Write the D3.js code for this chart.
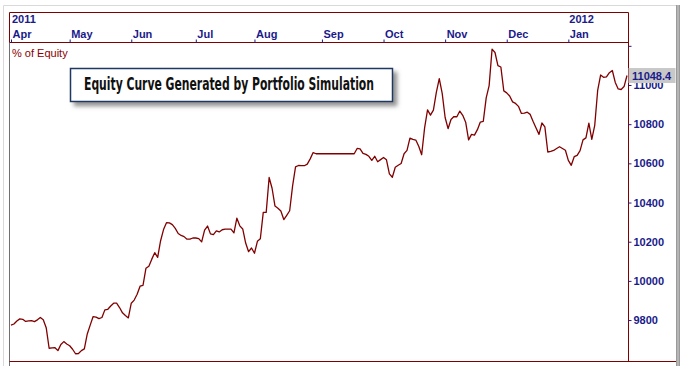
<!DOCTYPE html>
<html>
<head>
<meta charset="utf-8">
<script src="https://cdn.jsdelivr.net/npm/d3@7"></script>
<style>
  body { margin: 0; background: #fff; }
  svg { display: block; }
</style>
</head>
<body>
<div id="wrapper"></div>
<script>
// month tick labels on the top axis and the trading-day index where each month starts
const months = ["Apr", "May", "Jun", "Jul", "Aug", "Sep", "Oct", "Nov", "Dec", "Jan"]
const monthStartIdx = [0, 20, 41, 63, 83, 106, 127, 148, 169, 190]
const yearLabels = ["2011", "2012"]
const yearIdx = [0, 190]

// right axis
const yTicks = [9800, 10000, 10200, 10400, 10600, 10800, 11000, 11200]
const lastValueLabel = "11048.4"
const titleText = "Equity Curve Generated by Portfolio Simulation"
const unitLabel = "% of Equity"

// equity value per trading day, Apr 2011 - Jan 2012
const equity = [
  9774, 9780, 9795, 9806, 9804, 9793, 9796, 9797, 9792, 9801,
  9813, 9802, 9761, 9656, 9658, 9659, 9644, 9675, 9690, 9678,
  9669, 9651, 9628, 9629, 9644, 9653, 9729, 9774, 9818, 9815,
  9807, 9813, 9852, 9855, 9872, 9886, 9886, 9864, 9837, 9823,
  9811, 9886, 9902, 9932, 9973, 9977, 10064, 10075, 10111, 10144,
  10120, 10205, 10262, 10297, 10296, 10287, 10268, 10242, 10232, 10226,
  10213, 10213, 10219, 10219, 10216, 10199, 10259, 10280, 10240, 10236,
  10255, 10250, 10261, 10264, 10264, 10264, 10245, 10320, 10281, 10265,
  10193, 10149, 10168, 10141, 10202, 10215, 10350, 10350, 10528, 10473,
  10382, 10371, 10357, 10313, 10335, 10358, 10485, 10582, 10589, 10588,
  10588, 10596, 10623, 10655, 10649, 10649, 10649, 10649, 10649, 10649,
  10649, 10649, 10649, 10649, 10649, 10649, 10649, 10649, 10676, 10674,
  10651, 10646, 10636, 10615, 10636, 10608, 10619, 10630, 10618, 10546,
  10529, 10580, 10590, 10599, 10649, 10666, 10729, 10722, 10719, 10687,
  10644, 10781, 10873, 10846, 10872, 10962, 11032, 10957, 10834, 10777,
  10824, 10839, 10838, 10867, 10845, 10810, 10720, 10748, 10744, 10772,
  10811, 10814, 10934, 10997, 11183, 11166, 11099, 11092, 10970, 10960,
  10944, 10914, 10906, 10891, 10855, 10856, 10861, 10850, 10814, 10781,
  10748, 10806, 10786, 10658, 10661, 10666, 10676, 10685, 10676, 10667,
  10615, 10590, 10634, 10641, 10665, 10720, 10730, 10805, 10722, 10794,
  10972, 11051, 11039, 11041, 11063, 11074, 11013, 10980, 10977, 10992,
  11048.4
]

const navy = "#1a1a8a"
const darkRed = "#800000"

const dimensions = {
  width: 690,
  height: 366,
  left: 10,
  right: 628,
  top: 42.5,
  bottom: 361,
  bandTop: 12.5,
}

const svg = d3.select("#wrapper")
  .append("svg")
  .attr("width", dimensions.width)
  .attr("height", dimensions.height)
  .style("font-family", "'Liberation Sans', Arial, sans-serif")

const xScale = d3.scaleLinear()
  .domain([0, equity.length - 1])
  .range([11, 627])

const yScale = d3.scaleLinear()
  .domain([9591, 11217])
  .range([dimensions.bottom, dimensions.top])

// outer light frame
svg.append("path")
  .attr("d", "M3.5,366 V5.5 H676")
  .attr("fill", "none")
  .attr("stroke", "#d9d9d9")
svg.append("rect")
  .attr("x", 676).attr("y", 5).attr("width", 4).attr("height", 361)
  .attr("fill", "#9a9a9a")
svg.append("line")
  .attr("x1", 678).attr("x2", 678).attr("y1", 5).attr("y2", 366)
  .attr("stroke", "#d0d0d0")

// plot borders
svg.append("line")
  .attr("x1", 9.5).attr("x2", 9.5).attr("y1", dimensions.top).attr("y2", 366)
  .attr("stroke", "#707070")
svg.append("path")
  .attr("d", `M9.5,${dimensions.top} V${dimensions.bandTop} H${dimensions.right + 0.5} V${dimensions.bottom + 1}`)
  .attr("fill", "none")
  .attr("stroke", darkRed)
svg.append("line")
  .attr("x1", 9.5).attr("x2", dimensions.right + 0.5)
  .attr("y1", dimensions.top).attr("y2", dimensions.top)
  .attr("stroke", darkRed)
svg.append("line")
  .attr("x1", 9.5).attr("x2", 676)
  .attr("y1", dimensions.bottom + 0.5).attr("y2", dimensions.bottom + 0.5)
  .attr("stroke", darkRed)

// top month axis
const xAxis = svg.append("g")
  .attr("transform", `translate(0, ${dimensions.top})`)
  .call(d3.axisTop(xScale)
    .tickValues(monthStartIdx)
    .tickSize(3)
    .tickFormat((d, i) => months[i]))
xAxis.select(".domain").remove()
xAxis.selectAll(".tick line").attr("stroke", navy)
xAxis.selectAll(".tick text")
  .attr("text-anchor", "start")
  .attr("x", 1)
  .attr("y", -4.5)
  .attr("dy", 0)
  .attr("fill", navy)
  .style("font-size", "11px")
  .style("font-weight", "bold")
  .style("font-family", "'Liberation Sans', Arial, sans-serif")

svg.append("g")
  .selectAll("text")
  .data(yearLabels)
  .join("text")
  .attr("x", (d, i) => xScale(yearIdx[i]) + 1)
  .attr("y", 23)
  .attr("fill", navy)
  .style("font-size", "11px")
  .style("font-weight", "bold")
  .text(d => d)

// right value axis
const yAxis = svg.append("g")
  .attr("transform", `translate(${dimensions.right + 0.5}, 0)`)
  .call(d3.axisRight(yScale)
    .tickValues(yTicks)
    .tickSize(3)
    .tickPadding(2)
    .tickFormat(d => d === 11200 ? "" : d))
yAxis.select(".domain").remove()
yAxis.selectAll(".tick line").attr("stroke", navy)
yAxis.selectAll(".tick text")
  .attr("fill", navy)
  .style("font-size", "11px")
  .style("font-weight", "bold")
  .style("font-family", "'Liberation Sans', Arial, sans-serif")

// equity line
const lineGenerator = d3.line()
  .x((d, i) => xScale(i))
  .y(d => yScale(d))

svg.append("path")
  .attr("d", lineGenerator(equity))
  .attr("fill", "none")
  .attr("stroke", darkRed)
  .attr("stroke-width", 1.3)
  .attr("stroke-linejoin", "round")

// last value flag
const lastY = yScale(equity[equity.length - 1])
svg.append("rect")
  .attr("x", dimensions.right + 0.5)
  .attr("y", lastY - 7.5)
  .attr("width", 47)
  .attr("height", 15)
  .attr("fill", "#c8c8c8")
svg.append("text")
  .attr("x", dimensions.right + 4)
  .attr("y", lastY + 4.5)
  .attr("fill", navy)
  .style("font-size", "11px")
  .style("font-weight", "bold")
  .text(lastValueLabel)

svg.append("text")
  .attr("x", 12)
  .attr("y", 57)
  .attr("fill", "#8b0000")
  .style("font-size", "11px")
  .text(unitLabel)

// title box with shadow
const defs = svg.append("defs")
const shadow = defs.append("filter")
  .attr("id", "shadow")
  .attr("x", "-10%").attr("y", "-30%")
  .attr("width", "130%").attr("height", "190%")
shadow.append("feDropShadow")
  .attr("dx", 4).attr("dy", 4)
  .attr("stdDeviation", 2)
  .attr("flood-color", "#777")
  .attr("flood-opacity", 0.8)

svg.append("rect")
  .attr("x", 70.5)
  .attr("y", 68.5)
  .attr("width", 322)
  .attr("height", 33)
  .attr("fill", "#fff")
  .attr("stroke", "#1f3864")
  .attr("stroke-width", 1.5)
  .attr("filter", "url(#shadow)")

svg.append("text")
  .attr("x", 229)
  .attr("y", 90)
  .attr("text-anchor", "middle")
  .attr("textLength", 290)
  .attr("lengthAdjust", "spacingAndGlyphs")
  .attr("fill", "#111")
  .style("font-family", "'Liberation Sans Narrow', 'DejaVu Sans Condensed', sans-serif")
  .style("font-size", "17px")
  .style("font-weight", "bold")
  .text(titleText)
</script>
</body>
</html>
